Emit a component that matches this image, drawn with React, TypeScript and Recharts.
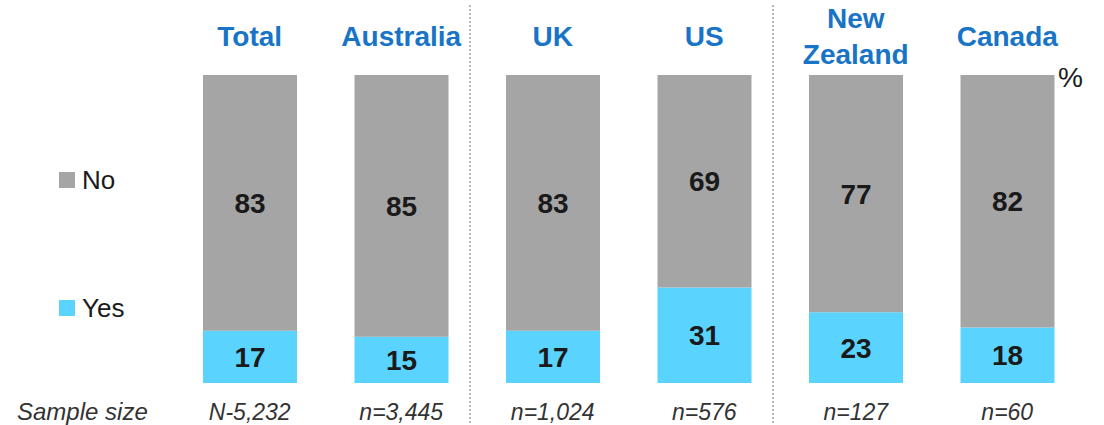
import { Bar, BarChart, LabelList, Legend, ReferenceLine, XAxis, YAxis } from "recharts"

const countries = ["Total", "Australia", "UK", "US", "New Zealand", "Canada"]
const yesValues = [17, 15, 17, 31, 23, 18]
const noValues = [83, 85, 83, 69, 77, 82]
const sampleSizes = ["N-5,232", "n=3,445", "n=1,024", "n=576", "n=127", "n=60"]
const groupEnds = ["Australia", "US"]
const legendOrder = ["No", "Yes"]

const data = countries.map((name, i) => ({
  name,
  yes: yesValues[i],
  no: noValues[i],
  n: sampleSizes[i],
}))

const FONT = "'Liberation Sans', Arial, sans-serif"
const BLUE = "#1874C6"
const GREY = "#A5A5A5"
const CYAN = "#5BD3FF"
const INK = "#1a1a1a"

function CountryTick({ x, y, payload }: any) {
  const lines = String(payload.value).split(" ")
  return (
    <g>
      {lines.map((line, i) => (
        <text
          key={line}
          x={x}
          y={y - 29 + (i - (lines.length - 1) / 2) * 36}
          textAnchor="middle"
          fontFamily={FONT}
          fontSize={28}
          fontWeight="bold"
          fill={BLUE}
        >
          {line}
        </text>
      ))}
    </g>
  )
}

function SampleTick({ x, y, payload }: any) {
  return (
    <text x={x} y={y + 37} textAnchor="middle" fontFamily={FONT} fontSize={23} fontStyle="italic" fill="#333">
      {payload.value}
    </text>
  )
}

function SideLegend({ payload }: any) {
  const items = legendOrder
    .map((name) => (payload ?? []).find((p: any) => p.value === name))
    .filter(Boolean)
  return (
    <div style={{ display: "flex", flexDirection: "column", gap: 100, fontFamily: FONT }}>
      {items.map((it: any) => (
        <div key={it.value} style={{ display: "flex", alignItems: "center", height: 28, fontSize: 26, color: INK }}>
          <span style={{ width: 16, height: 16, background: it.color, marginRight: 7, display: "inline-block" }} />
          {it.value}
        </div>
      ))}
    </div>
  )
}

function Separator(props: any) {
  const top = Math.min(props.y1, props.y2)
  const bottom = Math.max(props.y1, props.y2)
  return (
    <line
      x1={props.x1 - 7}
      x2={props.x2 - 7}
      y1={top - 70}
      y2={bottom + 42}
      stroke="#A0A0A0"
      strokeWidth={1.5}
      strokeDasharray="2 2"
    />
  )
}

export default function App() {
  return (
    <div style={{ position: "absolute", left: 0, top: 0, width: 1104, height: 425 }}>
      <BarChart width={1104} height={425} data={data} margin={{ top: 0, right: 21, bottom: 0, left: 174 }}>
        <XAxis
          xAxisId="top"
          orientation="top"
          dataKey="name"
          height={75}
          axisLine={false}
          tickLine={false}
          tickSize={0}
          tickMargin={0}
          interval={0}
          tick={<CountryTick />}
        />
        <XAxis
          xAxisId="bottom"
          orientation="bottom"
          dataKey="n"
          height={42}
          axisLine={false}
          tickLine={false}
          tickSize={0}
          tickMargin={0}
          interval={0}
          tick={<SampleTick />}
        />
        <YAxis hide domain={[0, 100]} />
        <Legend
          layout="vertical"
          align="center"
          verticalAlign="middle"
          content={<SideLegend />}
          wrapperStyle={{ left: 59, top: 166, width: "auto" }}
        />
        {groupEnds.map((g) => (
          <ReferenceLine
            key={g}
            xAxisId="top"
            x={g}
            position="end"
            ifOverflow="visible"
            shape={<Separator />}
          />
        ))}
        <Bar xAxisId="top" dataKey="yes" name="Yes" stackId="a" fill={CYAN} barSize={94} isAnimationActive={false}>
          <LabelList dataKey="yes" position="center" fill={INK} fontSize={28} fontWeight="bold" fontFamily={FONT} />
        </Bar>
        <Bar xAxisId="top" dataKey="no" name="No" stackId="a" fill={GREY} barSize={94} isAnimationActive={false}>
          <LabelList dataKey="no" position="center" fill={INK} fontSize={28} fontWeight="bold" fontFamily={FONT} />
        </Bar>
      </BarChart>
      <span
        style={{ position: "absolute", left: 1058, top: 64, fontFamily: FONT, fontSize: 28, lineHeight: 1, color: INK }}
      >
        %
      </span>
      <span
        style={{
          position: "absolute",
          left: 17,
          top: 400,
          fontFamily: FONT,
          fontSize: 24,
          fontStyle: "italic",
          lineHeight: 1,
          color: "#333",
        }}
      >
        Sample size
      </span>
    </div>
  )
}
